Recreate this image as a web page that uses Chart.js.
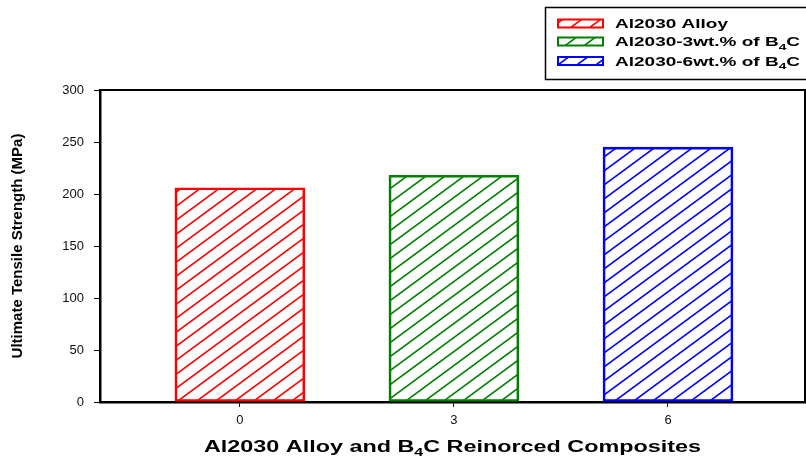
<!DOCTYPE html>
<html>
<head>
    <title>Al2030 / B4C tensile strength</title>
    <script src="https://cdn.jsdelivr.net/npm/chart.js"></script>
    <style>
        body { margin: 0; background: #fff; }
        canvas { display: block; }
    </style>
</head>
<body>
    <canvas id="grafico" width="806" height="457"></canvas>

    <script>
        // data
        const seriesLabels = ['Al2030 Alloy', 'Al2030-3wt.% of B₄C', 'Al2030-6wt.% of B₄C'];
        const contents = [0, 3, 6];          // wt.% B4C (x position)
        const strengths = [206, 218, 245];    // MPa
        const seriesColors = ['#ff0000', '#008000', '#0000ff'];
        const yTickValues = [0, 50, 100, 150, 200, 250, 300];
        const xTitle = 'Al2030 Alloy and B₄C Reinorced Composites';
        const yTitle = 'Ultimate Tensile Strength (MPa)';

        const FONT = "'Liberation Sans', Arial, sans-serif";
        const canvas = document.getElementById('grafico');
        const ctx = canvas.getContext('2d');

        // diagonal hatch like the sigmaplot fill
        function hatch(color) {
            const w = 19, h = 14;
            const c = document.createElement('canvas');
            c.width = w; c.height = h;
            const g = c.getContext('2d');
            g.strokeStyle = color;
            g.lineWidth = 1.6;
            g.beginPath();
            [[-w, 2 * h, 2 * w, -h], [-w, h, w, -h], [0, 2 * h, 2 * w, 0]].forEach(s => {
                g.moveTo(s[0], s[1]);
                g.lineTo(s[2], s[3]);
            });
            g.stroke();
            return ctx.createPattern(c, 'repeat');
        }

        // split "B₄C" into parts so the 4 can be drawn as a subscript
        function parts(str) {
            const out = [];
            let buf = '';
            for (const ch of str) {
                if (ch === '₄') {
                    if (buf) out.push({ t: buf, sub: false });
                    out.push({ t: '4', sub: true });
                    buf = '';
                } else buf += ch;
            }
            if (buf) out.push({ t: buf, sub: false });
            return out;
        }

        // text drawn a little wider than normal, as in the original picture
        function richText(c, str, x, y, size, sx, align) {
            const p = parts(str);
            const main = 'bold ' + size + 'px ' + FONT;
            const small = 'bold ' + Math.round(size * 0.7) + 'px ' + FONT;
            let total = 0;
            p.forEach(q => { c.font = q.sub ? small : main; q.w = c.measureText(q.t).width; total += q.w; });
            c.save();
            c.translate(x, y);
            c.scale(sx, 1);
            c.fillStyle = '#000';
            c.textBaseline = 'alphabetic';
            c.textAlign = 'left';
            let cx = align === 'center' ? -total / 2 : 0;
            p.forEach(q => {
                c.font = q.sub ? small : main;
                c.fillText(q.t, cx, q.sub ? size * 0.28 : 0);
                cx += q.w;
            });
            c.restore();
        }

        const decoracao = {
            id: 'decoracao',
            afterDraw(chart) {
                const c = chart.ctx;
                const a = chart.chartArea;
                c.save();
                // top and right frame lines
                c.strokeStyle = '#000';
                c.lineWidth = 2;
                c.beginPath();
                c.moveTo(a.left, a.top);
                c.lineTo(a.right, a.top);
                c.lineTo(a.right, a.bottom);
                c.stroke();

                // legend box
                c.lineWidth = 1.5;
                c.strokeRect(545.5, 7.5, 270, 72);
                const rows = [23.5, 41.5, 61];
                chart.data.datasets.forEach((ds, i) => {
                    const y = rows[i];
                    c.fillStyle = ds.backgroundColor;
                    c.fillRect(558, y - 4, 45, 8);
                    c.strokeStyle = ds.borderColor;
                    c.lineWidth = 2;
                    c.strokeRect(558, y - 4, 45, 8);
                    richText(c, ds.label, 615, y + 4.5, 12.5, 1.52, 'left');
                });

                // axis titles
                const xs = chart.scales.x;
                richText(c, xTitle, (xs.left + xs.right) / 2, 452, 16, 1.46, 'center');

                c.translate(18, (a.top + a.bottom) / 2);
                c.rotate(-Math.PI / 2);
                c.font = 'bold 15px ' + FONT;
                c.fillStyle = '#000';
                c.textAlign = 'center';
                c.textBaseline = 'middle';
                c.fillText(yTitle, 0, 0);
                c.restore();
            }
        };

        const datasets = seriesLabels.map((label, i) => ({
            label: label,
            data: [{ x: contents[i], y: strengths[i] }],
            backgroundColor: hatch(seriesColors[i]),
            borderColor: seriesColors[i],
            borderWidth: 2,
            borderSkipped: false,
            barThickness: 130,
            grouped: false
        }));

        new Chart(ctx, {
            type: 'bar',
            data: { datasets: datasets },
            plugins: [decoracao],
            options: {
                responsive: false,
                animation: false,
                devicePixelRatio: 1,
                layout: { padding: { top: 90, right: 1, left: 0, bottom: 0 } },
                plugins: {
                    legend: { display: false },
                    tooltip: { enabled: false }
                },
                scales: {
                    x: {
                        type: 'linear',
                        offset: false,
                        min: -1.96,
                        max: 7.92,
                        afterBuildTicks: s => { s.ticks = contents.map(v => ({ value: v })); },
                        afterFit: s => { s.height = 55; },
                        grid: { display: true, offset: false, drawOnChartArea: false, color: '#000', tickLength: 5 },
                        border: { display: true, color: '#000', width: 2.5 },
                        ticks: {
                            color: '#111',
                            padding: 6,
                            font: { family: FONT, size: 13 },
                            callback: v => String(v)
                        }
                    },
                    y: {
                        min: 0,
                        max: 300,
                        afterBuildTicks: s => { s.ticks = yTickValues.map(v => ({ value: v })); },
                        afterFit: s => { s.width = 100; },
                        grid: { display: true, drawOnChartArea: false, color: '#000', tickLength: 6 },
                        border: { display: true, color: '#000', width: 2.5 },
                        ticks: {
                            color: '#111',
                            padding: 10,
                            font: { family: FONT, size: 13 }
                        }
                    }
                }
            }
        });
    </script>
</body>
</html>
